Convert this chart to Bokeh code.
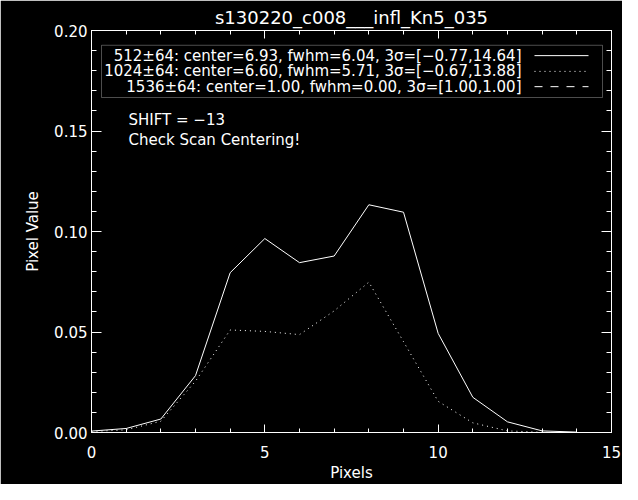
from bokeh.plotting import figure
from bokeh.models import (Range1d, LinearAxis, SingleIntervalTicker, PrintfTickFormatter,
                          Label, BoxAnnotation, Arrow)
from bokeh.embed import file_html
from bokeh.resources import INLINE

# ---------------- data ----------------
pixels = list(range(15))
value_512 = [0.0007, 0.0020, 0.0067, 0.0283, 0.0795, 0.0965, 0.0845, 0.0878,
             0.1133, 0.1096, 0.0493, 0.0175, 0.0053, 0.0008, 0.0002]
value_1024 = [0.0005, 0.0013, 0.0056, 0.0255, 0.0510, 0.0503, 0.0487, 0.0605,
              0.0748, 0.0452, 0.0155, 0.0048, 0.0008, 0.0001, 0.0000]

title_text = "s130220_c008___infl_Kn5_035"
legend_texts = [
    "512±64: center=6.93, fwhm=6.04, 3σ=[−0.77,14.64]",
    "1024±64: center=6.60, fwhm=5.71, 3σ=[−0.67,13.88]",
    "1536±64: center=1.00, fwhm=0.00, 3σ=[1.00,1.00]",
]
legend_dashes = ["solid", "1 4", "8 8"]
notes = ["SHIFT = −13", "Check Scan Centering!"]
x_label = "Pixels"
y_label = "Pixel Value"
x_min, x_max, x_step = 0, 15, 5
y_min, y_max, y_step = 0.0, 0.20, 0.05

# ---------------- layout ----------------
W, H = 622, 484
ML, MR, MT, MB = 91, 11, 30, 46
FW, FH = W - ML - MR, H - MT - MB
FONT = "DejaVu Sans"


def xd(px):  # picture pixel -> data x
    return x_min + (px - ML) / FW * (x_max - x_min)


def yd(py):  # picture pixel -> data y
    return y_min + (MT + FH - py) / FH * (y_max - y_min)


p = figure(width=W, height=H, x_range=Range1d(x_min, x_max), y_range=Range1d(y_min, y_max),
           output_backend="svg", toolbar_location=None,
           min_border_left=ML, min_border_right=MR, min_border_top=MT, min_border_bottom=MB,
           x_axis_label=x_label, y_axis_label=y_label, title=title_text)
p.background_fill_color = "black"
p.border_fill_color = "black"
p.outline_line_color = "white"
p.grid.visible = False

p.title.align = "center"
p.title.text_color = "white"
p.title.text_font = FONT
p.title.text_font_size = "18px"
p.title.text_font_style = "normal"
p.title.standoff = 6

p.add_layout(LinearAxis(), "above")
p.add_layout(LinearAxis(), "right")

for ax in p.xaxis:
    ax.ticker = SingleIntervalTicker(interval=x_step, num_minor_ticks=5)
    ax.formatter = PrintfTickFormatter(format="%d")
    ax.major_tick_in, ax.major_tick_out = 8, 0
    ax.minor_tick_in, ax.minor_tick_out = 4, 0
for ax in p.yaxis:
    ax.ticker = SingleIntervalTicker(interval=y_step, num_minor_ticks=5)
    ax.formatter = PrintfTickFormatter(format="%.2f")
    ax.major_tick_in, ax.major_tick_out = 10, 0
    ax.minor_tick_in, ax.minor_tick_out = 5, 0

for ax in p.axis:
    ax.axis_line_color = "white"
    ax.major_tick_line_color = "white"
    ax.minor_tick_line_color = "white"
    ax.major_label_text_color = "white"
    ax.major_label_text_font = FONT
    ax.major_label_text_font_size = "15px"
    ax.axis_label_text_color = "white"
    ax.axis_label_text_font = FONT
    ax.axis_label_text_font_size = "15px"
    ax.axis_label_text_font_style = "normal"

p.below[0].major_label_standoff = 13
p.below[0].axis_label_standoff = 3
p.left[0].major_label_standoff = 4
p.left[0].axis_label_standoff = 9

for ax in (p.above[0], p.right[0]):
    ax.major_label_text_color = None
    ax.major_label_text_font_size = "1px"
    ax.major_label_standoff = 0

# ---------------- data lines ----------------
p.line(pixels, value_512, line_color="white", line_width=1)
p.line(pixels, value_1024, line_color="white", line_width=1, line_dash="1 4")

# ---------------- legend ----------------
p.add_layout(BoxAnnotation(left=xd(101), right=xd(602), top=yd(45), bottom=yd(98),
                           fill_color=None, fill_alpha=0, line_color="white", line_width=1))
row_y = [55.5, 71.5, 87]
for txt, dash, ry in zip(legend_texts, legend_dashes, row_y):
    p.add_layout(Label(x=xd(521), y=yd(ry), text=txt, text_color="white", text_font=FONT,
                       text_font_size="15px", text_align="right", text_baseline="middle"))
    p.add_layout(Arrow(x_start=xd(534), y_start=yd(ry), x_end=xd(588), y_end=yd(ry),
                       start=None, end=None, line_color="white", line_width=1, line_dash=dash))

# ---------------- notes ----------------
for txt, ny in zip(notes, [120.7, 140.7]):
    p.add_layout(Label(x=xd(128), y=yd(ny), text=txt, text_color="white", text_font=FONT,
                       text_font_size="15px", text_align="left", text_baseline="middle"))

open("out.html", "w").write(file_html(p, INLINE))
